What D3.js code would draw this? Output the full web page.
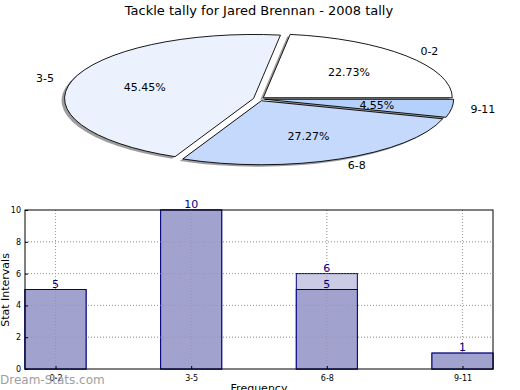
<!DOCTYPE html>
<html><head><meta charset="utf-8">
<script src="https://cdn.jsdelivr.net/npm/d3@7"></script>
<style>body{margin:0;background:#fff}svg{display:block;font-family:"DejaVu Sans",sans-serif}</style>
</head><body>
<svg id="c" width="520" height="390"></svg>
<script>
const title = "Tackle tally for Jared Brennan - 2008 tally";
const categories = ["0-2","3-5","6-8","9-11"];
const pieValues = [5,10,6,1];
const pieColors = ["#ffffff","#ebf2fe","#c5d9fd","#b4d1fc"];
const barSeriesA = [5,10,6,1];
const barSeriesB = [5,10,5,1];
const yTicks = [0,2,4,6,8,10];

const svg = d3.select("#c");
svg.append("rect").attr("width",520).attr("height",390).attr("fill","#fff");
svg.append("text").attr("x",259).attr("y",15).attr("text-anchor","middle")
  .attr("font-size",13).text(title);

// ---- Pie ----
const cx=259, cy=99, rx=189, ry=64, R=100, explode=0.03;
const pie = d3.pie().sort(null).startAngle(Math.PI/2).endAngle(Math.PI/2-2*Math.PI);
const arcs = pie(pieValues);
const arc = d3.arc().innerRadius(0).outerRadius(R);
const total = d3.sum(pieValues);
const pg = svg.append("g");
arcs.forEach((a,i)=>{
  const m=(a.startAngle+a.endAngle)/2;
  const ox=explode*R*Math.sin(m), oy=-explode*R*Math.cos(m);
  pg.append("path").attr("d",arc(a))
    .attr("transform",`translate(${cx-3},${cy+2}) scale(${rx/R},${ry/R}) translate(${ox},${oy})`)
    .attr("fill","#8c8c8c").attr("opacity",0.85);
});
arcs.forEach((a,i)=>{
  const m=(a.startAngle+a.endAngle)/2;
  const ox=explode*R*Math.sin(m), oy=-explode*R*Math.cos(m);
  pg.append("path").attr("d",arc(a))
    .attr("transform",`translate(${cx},${cy}) scale(${rx/R},${ry/R}) translate(${ox},${oy})`)
    .attr("fill",pieColors[i]).attr("stroke","#000").attr("stroke-width",0.9)
    .attr("vector-effect","non-scaling-stroke").attr("stroke-linejoin","miter");
});
arcs.forEach((a,i)=>{
  const m=(a.startAngle+a.endAngle)/2;
  const sx=Math.sin(m), sy=-Math.cos(m);
  const bx=cx+explode*rx*sx, by=cy+explode*ry*sy;
  const lx=bx+1.1*rx*sx, ly=by+1.1*ry*sy;
  pg.append("text").attr("x",lx).attr("y",ly).attr("dy","0.35em")
    .attr("text-anchor", sx>0?"start":"end").attr("font-size",11).text(categories[i]);
  const px=bx+0.6*rx*sx, py=by+0.6*ry*sy;
  pg.append("text").attr("x",px).attr("y",py).attr("dy","0.35em")
    .attr("text-anchor","middle").attr("font-size",11)
    .text((pieValues[i]/total*100).toFixed(2)+"%");
});

// ---- Bars ----
const L=25, Rt=493, T=210, B=369, bw=0.45;
const x = d3.scaleLinear().domain([-bw/2, categories.length-1+bw/2]).range([L,Rt]);
const y = d3.scaleLinear().domain([0,10]).range([B,T]);
const bg = svg.append("g");
bg.selectAll(".gy").data(yTicks.slice(1,-1)).enter().append("line")
  .attr("x1",L).attr("x2",Rt).attr("y1",d=>y(d)).attr("y2",d=>y(d))
  .attr("stroke","#b0b0b0").attr("stroke-dasharray","1,2");
bg.selectAll(".gx").data(categories).enter().append("line")
  .attr("x1",(d,i)=>x(i)).attr("x2",(d,i)=>x(i)).attr("y1",T).attr("y2",B)
  .attr("stroke","#b0b0b0").attr("stroke-dasharray","1,2");
function drawSeries(vals, fill){
  bg.selectAll(null).data(vals).enter().append("rect")
    .attr("x",(d,i)=>x(i-bw/2)).attr("width",(d,i)=>x(i+bw/2)-x(i-bw/2))
    .attr("y",d=>y(d)).attr("height",d=>B-y(d))
    .attr("fill",fill).attr("stroke","#000080").attr("stroke-width",1);
}
drawSeries(barSeriesA,"#cbcbe3");
drawSeries(barSeriesB,"#a2a2cf");
bg.selectAll(".gx2").data(categories).enter().append("line")
  .attr("x1",(d,i)=>x(i)).attr("x2",(d,i)=>x(i)).attr("y1",T).attr("y2",B)
  .attr("stroke","#909090").attr("stroke-opacity",0.6).attr("stroke-dasharray","1,2");
bg.selectAll(".gy2").data(yTicks.slice(1,-1)).enter().append("line")
  .attr("x1",L).attr("x2",Rt).attr("y1",d=>y(d)).attr("y2",d=>y(d))
  .attr("stroke","#909090").attr("stroke-opacity",0.6).attr("stroke-dasharray","1,2");
// value labels (one per distinct top)
const labelData = [];
barSeriesA.forEach((v,i)=>{
  labelData.push({i, v});
  if (barSeriesB[i] !== v) labelData.push({i, v: barSeriesB[i]});
});
bg.selectAll(null).data(labelData).enter().append("text")
  .attr("x",d=>x(d.i)).attr("y",d=>y(d.v)-2).attr("text-anchor","middle")
  .attr("font-size",11).attr("fill","#000080").text(d=>d.v);
bg.append("rect").attr("x",L).attr("y",T).attr("width",Rt-L).attr("height",B-T)
  .attr("fill","none").attr("stroke","#000").attr("stroke-width",1);
const yAx = d3.axisLeft(y).tickValues(yTicks).tickSize(-3).tickPadding(4);
const ga = bg.append("g").attr("transform",`translate(${L},0)`).call(yAx);
ga.select(".domain").remove();
ga.selectAll("text").attr("font-size",8).attr("font-family","DejaVu Sans");
const xAx = d3.axisBottom(x).tickValues(d3.range(categories.length)).tickFormat(i=>categories[i]).tickSize(-3).tickPadding(6);
const gx = bg.append("g").attr("transform",`translate(0,${B})`).call(xAx);
gx.select(".domain").remove();
gx.selectAll("text").attr("font-size",8).attr("font-family","DejaVu Sans");
svg.append("text").attr("transform","translate(9,290) rotate(-90)").attr("text-anchor","middle")
  .attr("font-size",11).text("Stat Intervals");
svg.append("text").attr("x",259).attr("y",392).attr("text-anchor","middle")
  .attr("font-size",11).text("Frequency");
svg.append("text").attr("x",0).attr("y",384).attr("font-size",12)
  .attr("fill","#a0a0a0").text("Dream-Stats.com");
</script>
</body></html>
